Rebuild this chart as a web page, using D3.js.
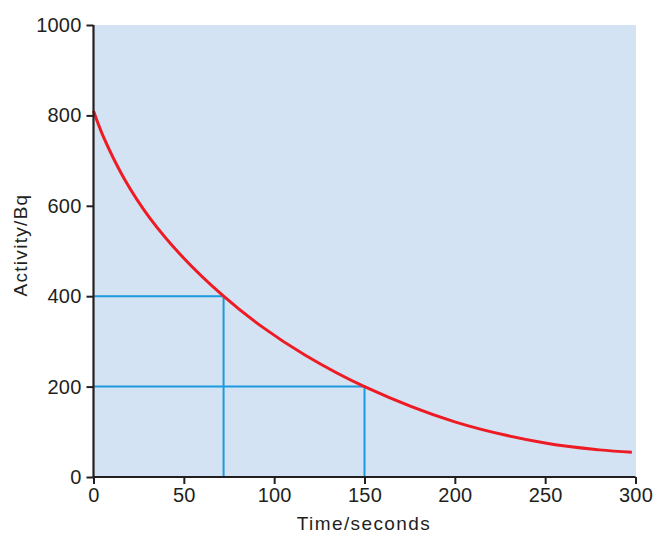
<!DOCTYPE html>
<html>
<head>
<meta charset="utf-8">
<script src="https://cdn.jsdelivr.net/npm/d3@7"></script>
<style>
  body { margin: 0; background: #fff; }
  text { font-family: "Liberation Sans", Arial, sans-serif; fill: #231f20; }
</style>
</head>
<body>
<svg id="chart" width="653" height="535"></svg>
<script>
// decay curve
const times = [0, 6, 17, 31, 50, 72, 92, 117, 150, 200, 250, 280, 298];
const activity = [810, 748, 660, 574, 484, 400, 336, 270, 200, 122, 75, 60, 55];
// half-life guide lines
const guideTimes = [72, 150];
const guideValues = [400, 200];
const xTicks = [0, 50, 100, 150, 200, 250, 300];
const yTicks = [0, 200, 400, 600, 800, 1000];

const svg = d3.select('#chart');
const plotLeft = 93.5, plotRight = 635.5, plotTop = 25, plotBottom = 477;

let x = d3.scaleLinear().domain([0, 300]).range([plotLeft, plotRight]);
let y = d3.scaleLinear().domain([0, 1000]).range([plotBottom, plotTop]);

svg.append('rect')
    .attr('x', plotLeft)
    .attr('y', plotTop)
    .attr('width', plotRight - plotLeft + 0.5)
    .attr('height', plotBottom - plotTop)
    .attr('fill', '#d4e3f3');

// blue guides
guideTimes.forEach((t, i) => {
    let v = guideValues[i];
    svg.append('path')
        .attr('d', `M${x(0)},${y(v)}H${x(t)}V${y(0)}`)
        .attr('fill', 'none')
        .attr('stroke', '#1a9be0')
        .attr('stroke-width', 2);
});

let pts = times.map((t, i) => [t, activity[i]]);
let line = d3.line()
    .x(d => x(d[0]))
    .y(d => y(d[1]))
    .curve(d3.curveCatmullRom.alpha(0.5));

svg.append('path')
    .datum(pts)
    .attr('d', line)
    .attr('fill', 'none')
    .attr('stroke', '#ed1c24')
    .attr('stroke-width', 3);

let xAxis = svg.append('g')
    .attr('transform', `translate(0,${plotBottom})`)
    .call(d3.axisBottom(x).tickValues(xTicks).tickFormat(d3.format('d')).tickSize(7).tickPadding(4));

let yAxis = svg.append('g')
    .attr('transform', `translate(${plotLeft},0)`)
    .call(d3.axisLeft(y).tickValues(yTicks).tickFormat(d3.format('d')).tickSize(7).tickPadding(5));

[xAxis, yAxis].forEach(g => {
    g.select('.domain').attr('stroke', '#231f20').attr('stroke-width', 2.2);
    g.selectAll('.tick line').attr('stroke', '#231f20').attr('stroke-width', 2);
    g.selectAll('.tick text')
        .attr('fill', '#231f20')
        .style('font-size', '20px')
        .style('letter-spacing', '0.2px')
        .style('font-family', '"Liberation Sans", Arial, sans-serif');
});
yAxis.select('.domain').attr('d', `M0,${plotBottom}V${plotTop}`);
xAxis.select('.domain').attr('d', `M${plotLeft},0H${plotRight}`);

svg.append('text')
    .attr('x', 364)
    .attr('y', 530)
    .attr('text-anchor', 'middle')
    .style('font-size', '19px')
    .style('letter-spacing', '1.4px')
    .text('Time/seconds');

svg.append('text')
    .attr('transform', 'translate(27,245) rotate(-90)')
    .attr('text-anchor', 'middle')
    .style('font-size', '19px')
    .style('letter-spacing', '1.3px')
    .text('Activity/Bq');
</script>
</body>
</html>
